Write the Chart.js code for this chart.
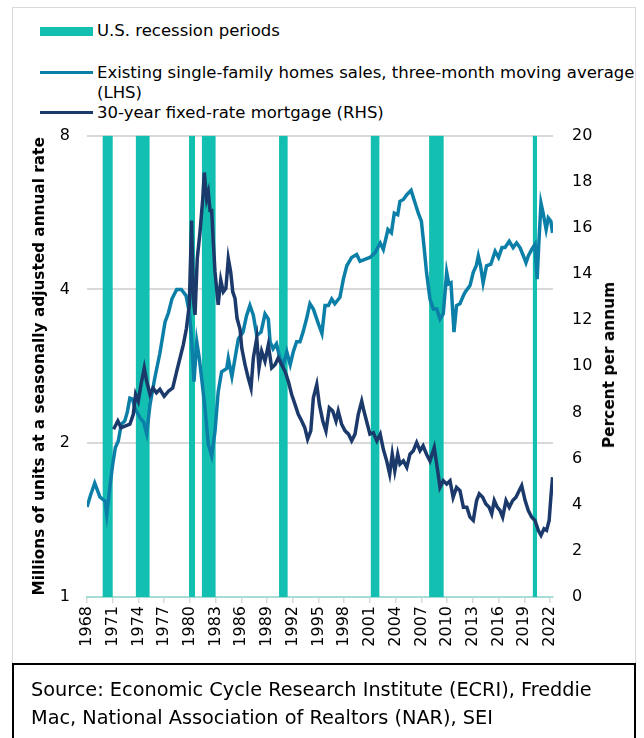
<!DOCTYPE html>
<html>
<head>
<meta charset="utf-8">
<script src="https://cdn.jsdelivr.net/npm/chart.js@4/dist/chart.umd.min.js"></script>
<style>
  body { margin: 0; background: #fff; font-family: "DejaVu Sans", sans-serif; color: #000; }
  #page { position: relative; width: 644px; height: 738px; overflow: hidden; }
  #frame { position: absolute; left: 12px; top: 7px; width: 624px; height: 657px; border: 1px solid #d9d9d9; box-sizing: border-box; }
  .leg { position: absolute; left: 97px; font-size: 16.5px; line-height: 20px; white-space: nowrap; }
  .mark { position: absolute; left: 40px; width: 53px; }
  #chartBox { position: absolute; left: 0; top: 107px; width: 644px; height: 558px; }
  #rightTitle { position: absolute; left: 609px; top: 365px; transform: translate(-50%, -50%) rotate(-90deg);
    font-size: 15.4px; font-weight: bold; white-space: nowrap; }
  #source { position: absolute; left: 12px; top: 663px; width: 624px; height: 90px; box-sizing: border-box;
    border-top: 2px solid #000; border-left: 2px solid #000; border-right: 2px solid #000;
    padding: 11px 0 0 17px; font-size: 19.3px; line-height: 28px; white-space: nowrap; }
</style>
</head>
<body>
<div id="page">
  <div id="frame"></div>

  <div class="mark" style="top:27px;height:9px;background:#13bfb1;"></div>
  <div class="leg" style="top:21px;">U.S. recession periods</div>
  <div class="mark" style="top:71px;height:3px;background:#0c7fa8;"></div>
  <div class="leg" style="top:63px;">Existing single-family homes sales, three-month moving average<br>(LHS)</div>
  <div class="mark" style="top:111px;height:3px;background:#1b3a6b;"></div>
  <div class="leg" style="top:103px;">30-year fixed-rate mortgage (RHS)</div>

  <div id="chartBox"><canvas id="chart" width="644" height="558"></canvas></div>
  <div id="rightTitle">Percent per annum</div>

  <div id="source">Source: Economic Cycle Research Institute (ECRI), Freddie<br>Mac, National Association of Realtors (NAR), SEI</div>
</div>

<script>
// 坐标轴刻度
const leftTicks = [1, 2, 4, 8];
const rightMax = 20;

// 衰退期（年份）
const recessionStart = [1969.8, 1973.7, 1979.9, 1981.4, 1990.4, 2001.1, 2007.9, 2020.0];
const recessionEnd   = [1971.0, 1975.3, 1980.6, 1983.0, 1991.4, 2002.1, 2009.6, 2020.5];

// 现房销售（百万套，左轴）
const salesYears = [
  1968.0, 1968.4, 1968.9, 1969.2, 1969.5, 1969.9, 1970.1, 1970.3, 1970.5, 1970.7,
  1971.0, 1971.3, 1971.65, 1972.0, 1972.4, 1972.7, 1973.0, 1973.3, 1973.6, 1974.2,
  1974.6, 1974.96, 1975.35, 1975.9, 1976.5, 1977.1, 1977.5, 1977.9, 1978.46, 1979.0,
  1979.55, 1979.93, 1980.2, 1980.48, 1980.8, 1981.1, 1981.37, 1981.76, 1982.15, 1982.54,
  1982.93, 1983.3, 1983.7, 1984.3, 1984.48, 1984.9, 1985.26, 1985.65, 1986.2, 1986.6,
  1987.0, 1987.4, 1987.8, 1988.3, 1988.76, 1989.15, 1989.35, 1989.7, 1990.1, 1990.5,
  1990.9, 1991.3, 1991.7, 1992.06, 1992.45, 1992.84, 1993.2, 1993.6, 1994.0, 1994.4,
  1995.0, 1995.4, 1995.76, 1996.15, 1996.54, 1996.9, 1997.5, 1997.9, 1998.3, 1998.87,
  1999.45, 1999.84, 2000.4, 2001.0, 2001.6, 2002.2, 2002.56, 2003.1, 2003.5, 2003.84,
  2004.24, 2004.5, 2004.9, 2005.3, 2005.8, 2006.2, 2006.64, 2007.0, 2007.34, 2007.6,
  2008.0, 2008.4, 2008.8, 2009.17, 2009.55, 2009.95, 2010.2, 2010.45, 2010.8, 2011.1,
  2011.5, 2011.9, 2012.1, 2012.67, 2013.05, 2013.4, 2013.64, 2013.9, 2014.2, 2014.6,
  2015.1, 2015.6, 2016.0, 2016.4, 2016.75, 2017.25, 2017.7, 2018.1, 2018.5, 2018.9,
  2019.2, 2019.47, 2019.87, 2020.25, 2020.5, 2020.7, 2020.95, 2021.2, 2021.55, 2021.8,
  2022.1, 2022.3
];
const salesValues = [
  1.50, 1.58, 1.67, 1.62, 1.57, 1.55, 1.54, 1.45, 1.55, 1.66,
  1.82, 1.96, 2.02, 2.18, 2.21, 2.30, 2.45, 2.44, 2.34, 2.24,
  2.20, 2.09, 2.38, 2.68, 3.00, 3.45, 3.60, 3.83, 4.00, 4.00,
  3.89, 3.61, 3.20, 2.64, 3.16, 2.93, 2.68, 2.34, 1.99, 1.89,
  2.11, 2.52, 2.76, 2.80, 2.93, 2.70, 2.93, 3.20, 3.30, 3.55,
  3.72, 3.56, 3.25, 3.30, 3.58, 3.50, 3.16, 3.06, 3.13, 2.93,
  2.85, 3.02, 2.85, 3.02, 3.16, 3.16, 3.30, 3.50, 3.75, 3.66,
  3.42, 3.28, 3.72, 3.72, 3.83, 3.75, 3.86, 4.19, 4.45, 4.62,
  4.68, 4.54, 4.58, 4.62, 4.72, 4.93, 4.79, 5.24, 5.16, 5.64,
  5.60, 5.95, 6.00, 6.13, 6.25, 5.95, 5.64, 5.44, 4.79, 4.32,
  3.83, 3.66, 3.66, 3.50, 3.58, 4.32, 4.10, 4.12, 3.30, 3.72,
  3.75, 3.89, 3.95, 4.07, 4.32, 4.45, 4.65, 4.45, 4.12, 4.45,
  4.48, 4.75, 4.62, 4.83, 4.83, 4.97, 4.83, 4.93, 4.83, 4.65,
  4.51, 4.65, 4.79, 4.90, 4.19, 4.93, 5.90, 5.64, 5.24, 5.52,
  5.44, 5.16
];

// 30年固定利率抵押贷款（%，右轴）
const mortgageYears = [
  1971.1, 1971.6, 1971.97, 1972.43, 1973.0, 1973.4, 1973.67, 1973.98, 1974.3, 1974.68,
  1974.96, 1975.35, 1975.7, 1976.1, 1976.5, 1977.0, 1977.5, 1978.0, 1978.46, 1978.85,
  1979.23, 1979.6, 1979.93, 1980.2, 1980.4, 1980.6, 1980.86, 1981.18, 1981.5, 1981.68,
  1981.96, 1982.15, 1982.35, 1982.54, 1982.73, 1982.93, 1983.3, 1983.6, 1983.9, 1984.2,
  1984.48, 1984.76, 1985.0, 1985.26, 1985.5, 1985.85, 1986.05, 1986.43, 1986.8, 1987.13,
  1987.4, 1987.8, 1988.06, 1988.37, 1988.76, 1989.15, 1989.54, 1989.93, 1990.3, 1990.7,
  1991.1, 1991.48, 1991.87, 1992.26, 1992.64, 1993.04, 1993.4, 1993.73, 1994.1, 1994.4,
  1994.8, 1995.1, 1995.5, 1995.87, 1996.26, 1996.65, 1997.04, 1997.3, 1997.7, 1998.1,
  1998.5, 1998.87, 1999.26, 1999.64, 2000.04, 2000.3, 2000.7, 2001.0, 2001.4, 2001.8,
  2002.2, 2002.56, 2002.95, 2003.3, 2003.6, 2003.9, 2004.24, 2004.5, 2004.9, 2005.3,
  2005.67, 2006.06, 2006.45, 2006.84, 2007.2, 2007.6, 2008.0, 2008.5, 2008.9, 2009.17,
  2009.55, 2009.95, 2010.34, 2010.7, 2011.1, 2011.5, 2011.9, 2012.3, 2012.67, 2013.05,
  2013.44, 2013.75, 2014.15, 2014.5, 2014.9, 2015.2, 2015.5, 2015.85, 2016.17, 2016.48,
  2016.87, 2017.25, 2017.65, 2018.03, 2018.4, 2018.7, 2019.1, 2019.47, 2019.87, 2020.25,
  2020.63, 2020.95, 2021.3, 2021.6, 2021.9, 2022.1, 2022.3
];
const mortgageValues = [
  7.27, 7.63, 7.34, 7.41, 7.49, 7.92, 8.78, 8.49, 9.21, 9.93,
  9.35, 8.78, 9.06, 8.85, 9.00, 8.70, 8.92, 9.06, 9.78, 10.36,
  10.93, 11.65, 12.66, 16.32, 12.94, 12.23, 14.67, 15.82, 17.26, 18.40,
  17.26, 17.54, 16.75, 16.75, 15.39, 14.09, 12.66, 13.74, 13.23, 13.38,
  14.67, 14.09, 13.23, 12.94, 12.08, 11.60, 10.79, 10.07, 9.50, 9.06,
  10.36, 11.22, 9.93, 10.65, 10.22, 10.93, 9.93, 10.07, 10.36, 10.07,
  9.78, 9.35, 8.78, 8.35, 7.92, 7.63, 7.34, 6.84, 7.20, 8.63,
  9.21, 8.35, 7.63, 7.20, 8.20, 8.06, 7.63, 8.06, 7.49, 7.20,
  7.06, 6.77, 7.06, 7.92, 8.49, 8.06, 7.49, 7.06, 7.12, 6.77,
  7.06, 6.40, 5.90, 5.33, 6.19, 5.47, 6.19, 5.76, 5.90, 5.62,
  6.19, 6.34, 6.69, 6.34, 6.55, 6.19, 5.90, 6.48, 5.47, 4.75,
  5.04, 4.90, 5.04, 4.32, 4.75, 4.61, 3.89, 3.89, 3.46, 3.32,
  4.18, 4.47, 4.32, 4.04, 3.89, 3.61, 4.18, 3.89, 3.75, 3.46,
  4.18, 3.89, 4.18, 4.32, 4.61, 4.83, 4.18, 3.75, 3.46, 3.32,
  2.89, 2.67, 2.96, 2.89, 3.32, 4.32, 5.19
];

const recessionPoints = [];
recessionStart.forEach((s, i) => {
    const e = recessionEnd[i];
    recessionPoints.push({x: s, y: 0}, {x: s, y: rightMax}, {x: e, y: rightMax}, {x: e, y: 0});
});

const salesPoints = salesYears.map((x, i) => ({x: x, y: salesValues[i]}));
const mortgagePoints = mortgageYears.map((x, i) => ({x: x, y: mortgageValues[i]}));

const tickFont = {family: 'DejaVu Sans', size: 16};

const ctx = document.getElementById('chart').getContext('2d');
new Chart(ctx, {
    type: 'line',
    data: {
        datasets: [{
            label: '30-year fixed-rate mortgage (RHS)',
            data: mortgagePoints,
            yAxisID: 'y1',
            borderColor: '#1b3a6b',
            borderWidth: 3.5,
            pointRadius: 0,
            order: 0
        }, {
            label: 'Existing single-family homes sales, three-month moving average (LHS)',
            data: salesPoints,
            yAxisID: 'y',
            borderColor: '#0c7fa8',
            borderWidth: 3.5,
            pointRadius: 0,
            order: 1
        }, {
            label: 'U.S. recession periods',
            data: recessionPoints,
            yAxisID: 'y1',
            borderWidth: 0,
            backgroundColor: '#13bfb1',
            fill: 'origin',
            pointRadius: 0,
            order: 3
        }]
    },
    options: {
        responsive: false,
        animation: false,
        devicePixelRatio: 1,
        layout: {padding: {left: 28, right: 23, top: 13, bottom: 8}},
        plugins: {
            legend: {display: false},
            tooltip: {enabled: false}
        },
        scales: {
            x: {
                type: 'linear',
                position: 'bottom',
                min: 1968,
                max: 2022.35,
                afterFit: s => { s.height = 60; },
                ticks: {
                    stepSize: 3,
                    autoSkip: false,
                    includeBounds: false,
                    minRotation: 90,
                    maxRotation: 90,
                    padding: 3,
                    color: '#000',
                    font: tickFont,
                    callback: v => String(v)
                },
                grid: {drawOnChartArea: false, tickLength: 6, color: '#d9d9d9', lineWidth: 1.5},
                border: {color: '#a6dcd6', width: 2}
            },
            y: {
                type: 'logarithmic',
                position: 'left',
                min: 1,
                max: 8,
                afterFit: s => { s.width = 59; },
                afterBuildTicks: axis => { axis.ticks = leftTicks.map(v => ({value: v})); },
                ticks: {color: '#000', font: tickFont, padding: 17, callback: v => String(v)},
                grid: {
                    drawTicks: false,
                    lineWidth: 2,
                    color: c => (c.tick && c.tick.value === 1) ? 'rgba(0,0,0,0)' : '#d9d9d9'
                },
                border: {display: false},
                title: {
                    display: true,
                    text: 'Millions of units at a seasonally adjusted annual rate',
                    color: '#000',
                    font: {family: 'DejaVu Sans', size: 15.3, weight: 'bold'},
                    padding: 3
                }
            },
            y1: {
                type: 'linear',
                position: 'right',
                min: 0,
                max: rightMax,
                afterFit: s => { s.width = 68; },
                ticks: {stepSize: 2, color: '#000', font: tickFont, padding: 19},
                grid: {display: false, drawTicks: false},
                border: {display: false}
            }
        }
    }
});
</script>
</body>
</html>
